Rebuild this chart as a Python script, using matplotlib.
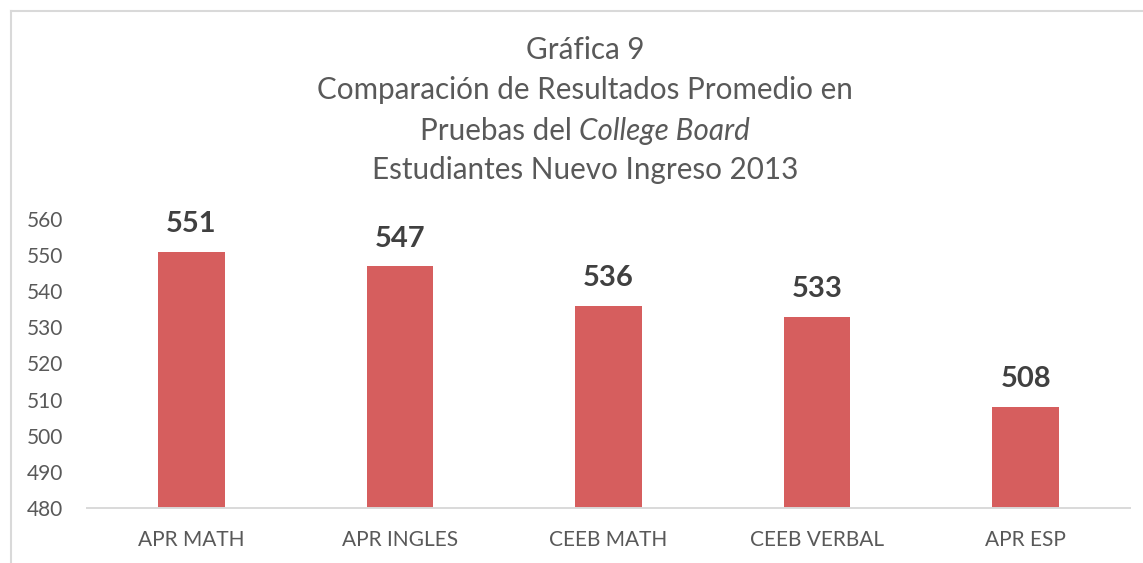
import matplotlib
matplotlib.use("Agg")
import matplotlib.pyplot as plt
from matplotlib.lines import Line2D

categories = ["APR MATH", "APR INGLES", "CEEB MATH", "CEEB VERBAL", "APR ESP"]
scores = [551, 547, 536, 533, 508]
y_ticks = [480, 490, 500, 510, 520, 530, 540, 550, 560]

plt.rcParams['font.family'] = ['Lato', 'DejaVu Sans']

W, H = 1143, 563
fig = plt.figure(figsize=(W / 100, H / 100), dpi=100)
ax = fig.add_axes([87 / W, 55 / H, (1130 - 87) / W, (508 - 219) / H])

x = list(range(len(categories)))
bars = ax.bar(x, [s - 480 for s in scores], bottom=480, width=0.32, color='#D65E5E')

ax.set_xlim(-0.5, len(categories) - 0.5)
ax.set_ylim(480, 560)
ax.set_yticks(y_ticks)
ax.set_yticklabels([str(t) for t in y_ticks], fontsize=15, color='#595959')
ax.set_xticks(x)
ax.set_xticklabels(categories, fontsize=15, color='#595959')
ax.tick_params(axis='y', length=0, pad=17)
ax.tick_params(axis='x', length=0, pad=16)
for side in ['top', 'right', 'left']:
    ax.spines[side].set_visible(False)
ax.spines['bottom'].set_color('#D9D9D9')
ax.spines['bottom'].set_linewidth(1.4)

for xi, s in zip(x, scores):
    ax.annotate(str(s), (xi, s), xytext=(0, 14), textcoords='offset points',
                ha='center', va='baseline', fontsize=21, fontweight='bold',
                color='#404040', annotation_clip=False)

# title, line 3 has an italic part
cx = 585 / W
tcol = '#595959'
tsize = 21.3
fig.text(cx, 1 - 50 / H, "Gráfica 9", ha='center', va='center', fontsize=tsize, color=tcol)
fig.text(cx, 1 - 90 / H, "Comparación de Resultados Promedio en", ha='center', va='center',
         fontsize=tsize, color=tcol)
fig.text(cx, 1 - 170 / H, "Estudiantes Nuevo Ingreso 2013", ha='center', va='center',
         fontsize=tsize, color=tcol)

r = fig.canvas.get_renderer()
t1 = fig.text(0, 1 - 131 / H, "Pruebas del ", ha='left', va='center', fontsize=tsize, color=tcol)
t2 = fig.text(0, 1 - 131 / H, "College Board", ha='left', va='center', fontsize=tsize,
              color=tcol, style='italic')
w1 = t1.get_window_extent(r).width / W
w2 = t2.get_window_extent(r).width / W
start = cx - (w1 + w2) / 2
t1.set_x(start)
t2.set_x(start + w1)

# chart border (only top and left edges visible)
fig.add_artist(Line2D([11 / W, 11 / W], [0, 1 - 11 / H], color='#D9D9D9', lw=1.5))
fig.add_artist(Line2D([11 / W, 1], [1 - 11 / H, 1 - 11 / H], color='#D9D9D9', lw=1.5))

fig.savefig("out.png", dpi=100)
